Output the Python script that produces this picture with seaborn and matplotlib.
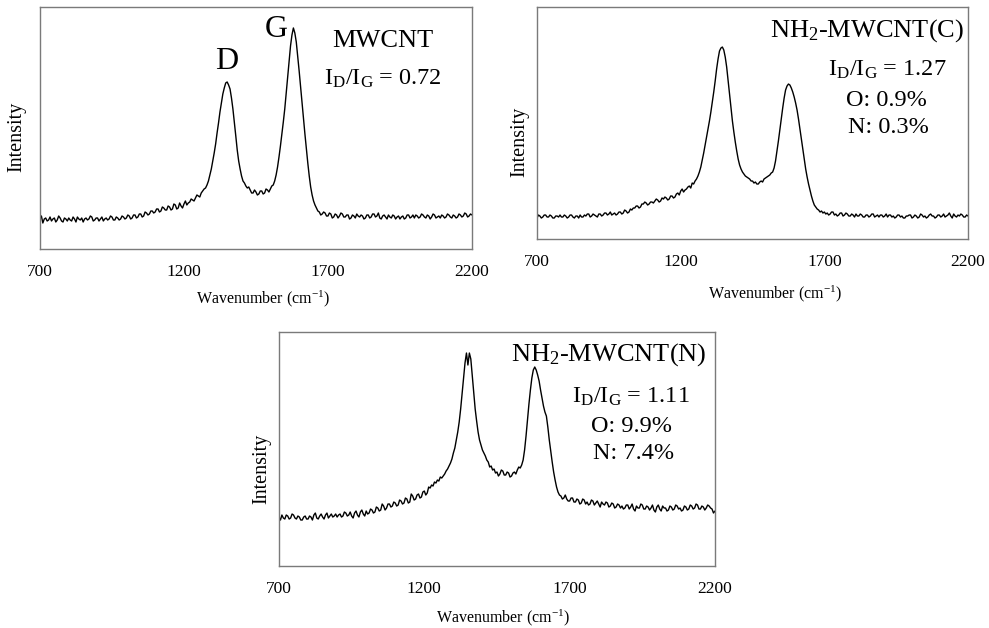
import numpy as np
import pandas as pd
import matplotlib
matplotlib.use("Agg")
import matplotlib.pyplot as plt
import seaborn as sns

# Raman spectra (intensity in arbitrary units), 700-2200 cm-1, 5 cm-1 step
wavenumber = np.arange(700, 2201, 5)

mwcnt = [
    30, 33, 26, 30, 31, 28, 29, 32, 28, 30, 31, 27, 29, 33, 31, 28, 27, 31, 30, 28,
    31, 29, 28, 32, 30, 27, 32, 30, 29, 31, 27, 30, 31, 29, 30, 33, 32, 28, 29, 31,
    31, 28, 30, 32, 28, 30, 31, 29, 30, 33, 32, 29, 29, 32, 31, 29, 30, 33, 32, 30,
    31, 34, 33, 30, 31, 34, 34, 31, 32, 35, 35, 32, 33, 37, 36, 34, 35, 38, 38, 36,
    37, 40, 40, 37, 38, 42, 41, 39, 39, 43, 42, 39, 40, 45, 44, 40, 41, 46, 43, 41,
    45, 48, 44, 46, 47, 50, 49, 48, 51, 54, 53, 52, 56, 58, 60, 61, 64, 68, 74, 80,
    88, 96, 105, 116, 126, 137, 146, 155, 161, 166, 167, 164, 160, 151, 140, 127, 113, 99, 88, 80,
    73, 68, 66, 63, 61, 62, 59, 56, 56, 59, 57, 54, 55, 58, 58, 55, 56, 60, 59, 57,
    60, 63, 64, 68, 74, 82, 92, 103, 115, 127, 140, 156, 172, 188, 203, 214, 221, 216, 207, 193,
    178, 162, 146, 130, 115, 100, 86, 73, 62, 54, 48, 44, 41, 38, 37, 34, 35, 37, 36, 33,
    33, 36, 35, 31, 32, 35, 34, 31, 33, 36, 35, 32, 32, 34, 34, 30, 31, 34, 33, 31,
    35, 33, 32, 34, 33, 30, 31, 34, 34, 31, 32, 35, 35, 32, 33, 36, 31, 30, 33, 34,
    32, 30, 34, 32, 31, 34, 33, 30, 32, 33, 30, 32, 33, 30, 31, 34, 34, 31, 32, 34,
    31, 34, 33, 31, 32, 35, 34, 32, 31, 34, 33, 30, 32, 35, 34, 31, 32, 33, 31, 34,
    33, 31, 32, 35, 34, 32, 31, 34, 33, 31, 32, 35, 34, 32, 33, 36, 35, 32, 33, 35,
    34,
]

nh2_mwcnt_c = [
    21, 24, 23, 21, 22, 24, 24, 22, 22, 24, 23, 21, 21, 23, 23, 22, 24, 22, 22, 24,
    23, 21, 22, 24, 24, 22, 21, 23, 23, 21, 24, 22, 22, 24, 23, 25, 25, 22, 23, 25,
    24, 23, 22, 25, 25, 23, 24, 26, 26, 24, 25, 27, 24, 25, 26, 24, 25, 27, 27, 25,
    26, 29, 28, 26, 27, 30, 29, 31, 31, 33, 33, 31, 32, 35, 35, 37, 36, 34, 35, 37,
    37, 36, 38, 40, 39, 37, 38, 41, 40, 42, 41, 39, 40, 43, 43, 41, 42, 45, 46, 44,
    48, 50, 47, 49, 50, 52, 53, 51, 56, 55, 58, 60, 63, 67, 72, 79, 86, 94, 102, 110,
    118, 127, 137, 147, 158, 170, 180, 188, 191, 192, 189, 182, 172, 159, 145, 131, 118, 107, 97, 88,
    80, 74, 70, 67, 65, 63, 62, 61, 60, 58, 58, 56, 57, 55, 55, 57, 58, 57, 60, 61,
    62, 63, 64, 66, 67, 71, 78, 88, 98, 109, 120, 131, 141, 149, 153, 155, 154, 151, 147, 142,
    136, 129, 120, 110, 100, 90, 80, 70, 62, 55, 49, 43, 38, 34, 32, 30, 29, 27, 28, 26,
    27, 25, 26, 24, 25, 27, 27, 24, 25, 23, 24, 26, 26, 23, 24, 26, 25, 23, 23, 25,
    24, 22, 25, 23, 23, 25, 24, 22, 22, 24, 24, 22, 23, 25, 25, 22, 23, 24, 22, 24,
    24, 22, 23, 25, 22, 24, 24, 22, 23, 21, 22, 24, 24, 22, 23, 21, 21, 23, 23, 24,
    24, 21, 22, 24, 23, 21, 22, 25, 24, 22, 23, 21, 22, 24, 25, 23, 23, 21, 22, 24,
    24, 22, 23, 25, 22, 23, 24, 26, 23, 21, 25, 23, 22, 24, 23, 25, 24, 22, 22, 24,
    23,
]

nh2_mwcnt_n = [
    49, 46, 51, 48, 47, 51, 50, 47, 48, 52, 51, 48, 47, 50, 49, 46, 46, 49, 50, 47,
    47, 50, 49, 46, 51, 53, 48, 47, 50, 52, 49, 47, 51, 53, 48, 50, 52, 49, 50, 52,
    49, 51, 52, 49, 50, 54, 53, 50, 51, 54, 50, 48, 53, 55, 51, 49, 54, 56, 52, 50,
    55, 52, 53, 57, 56, 53, 54, 59, 58, 55, 56, 62, 60, 56, 58, 62, 62, 59, 60, 64,
    63, 60, 61, 66, 65, 62, 63, 68, 67, 63, 64, 72, 70, 66, 67, 71, 72, 68, 69, 74,
    75, 71, 73, 79, 78, 81, 80, 84, 83, 86, 85, 89, 88, 90, 92, 95, 97, 100, 103, 107,
    113, 118, 126, 134, 144, 157, 172, 188, 203, 213, 201, 213, 207, 190, 172, 157, 145, 134, 126, 121,
    116, 113, 110, 106, 104, 99, 100, 96, 97, 93, 94, 90, 92, 96, 95, 91, 91, 94, 93, 89,
    90, 93, 94, 92, 96, 99, 98, 101, 106, 116, 130, 146, 162, 176, 188, 196, 199, 196, 191, 185,
    176, 168, 160, 154, 150, 139, 126, 115, 104, 94, 86, 79, 74, 71, 70, 67, 68, 71, 67, 65,
    65, 68, 68, 64, 64, 67, 66, 62, 63, 67, 66, 62, 64, 61, 62, 66, 65, 61, 63, 65,
    62, 59, 64, 62, 61, 64, 63, 59, 60, 63, 62, 58, 59, 62, 61, 58, 60, 57, 58, 61,
    61, 57, 59, 62, 57, 55, 60, 58, 58, 62, 61, 57, 57, 60, 59, 56, 58, 61, 56, 54,
    59, 61, 57, 55, 60, 58, 58, 55, 56, 60, 59, 56, 57, 61, 60, 57, 58, 55, 56, 60,
    59, 56, 57, 61, 60, 57, 58, 62, 61, 57, 57, 60, 59, 56, 58, 61, 60, 58, 57, 53,
    55,
]

xticks = [700, 1200, 1700, 2200]

sns.set_style("white")
plt.rcParams["font.family"] = ["Liberation Serif", "DejaVu Serif"]
plt.rcParams["mathtext.fontset"] = "custom"
plt.rcParams["mathtext.rm"] = "Liberation Serif"
plt.rcParams["mathtext.it"] = "Liberation Serif:italic"
plt.rcParams["text.color"] = "black"
plt.rcParams["axes.labelcolor"] = "black"
plt.rcParams["xtick.color"] = "black"

fig = plt.figure(figsize=(9.89, 6.28), dpi=100)

# axes boxes in figure fractions, plus y-limit matching each panel height
ax1 = fig.add_axes([0.0404, 0.6035, 0.4368, 0.3854])
ax2 = fig.add_axes([0.5430, 0.6194, 0.4358, 0.3694])
ax3 = fig.add_axes([0.2821, 0.0987, 0.4408, 0.3726])

panels = [
    (ax1, mwcnt, 242, (-0.032, 0.463), (0.516, -0.165)),
    (ax2, nh2_mwcnt_c, 232, (-0.019, 0.418), (0.553, -0.19)),
    (ax3, nh2_mwcnt_n, 234, (-0.018, 0.415), (0.515, -0.176)),
]

for ax, spec, ytop, ylab_pos, xlab_pos in panels:
    df = pd.DataFrame({"wavenumber": wavenumber, "intensity": spec})
    sns.lineplot(data=df, x="wavenumber", y="intensity", ax=ax,
                 color="black", linewidth=1.0)
    ax.set_xlim(700, 2200)
    ax.set_ylim(0, ytop)
    ax.set_xticks(xticks)
    ax.set_xticklabels([str(t) for t in xticks])
    ax.set_yticks([])
    ax.tick_params(axis="x", length=0, pad=11, labelsize=12.5)
    for sp in ax.spines.values():
        sp.set_color("#7a7a7a")
        sp.set_linewidth(1.0)
    ax.set_ylabel("Intensity", fontsize=14.5)
    ax.set_xlabel(r"Wavenumber (cm$^{\mathrm{-1}}$)", fontsize=11.5)
    ax.yaxis.set_label_coords(*ylab_pos)
    ax.xaxis.set_label_coords(*xlab_pos)

# panel 1 annotations
ax1.text(1348, 180, "D", fontsize=23, ha="center", va="baseline")
ax1.text(1522, 212, "G", fontsize=23, ha="center", va="baseline")
ax1.text(1889, 202, "MWCNT", fontsize=19, ha="center", va="baseline")
ax1.text(1889, 164, r"I$_\mathrm{D}$/I$_\mathrm{G}$ = 0.72", fontsize=17.5,
         ha="center", va="baseline")

# panel 2 annotations
ax2.text(1850, 202, r"NH$_\mathrm{2}$-MWCNT(C)", fontsize=19, ha="center", va="baseline")
ax2.text(1920, 163, r"I$_\mathrm{D}$/I$_\mathrm{G}$ = 1.27", fontsize=17.5,
         ha="center", va="baseline")
ax2.text(1917, 133, "O: 0.9%", fontsize=17.5, ha="center", va="baseline")
ax2.text(1922, 106, "N: 0.3%", fontsize=17.5, ha="center", va="baseline")

# panel 3 annotations
ax3.text(1833, 205, r"NH$_\mathrm{2}$-MWCNT(N)", fontsize=19, ha="center", va="baseline")
ax3.text(1911, 163, r"I$_\mathrm{D}$/I$_\mathrm{G}$ = 1.11", fontsize=17.5,
         ha="center", va="baseline")
ax3.text(1914, 134, "O: 9.9%", fontsize=17.5, ha="center", va="baseline")
ax3.text(1920, 107, "N: 7.4%", fontsize=17.5, ha="center", va="baseline")

fig.savefig("out.png", dpi=100)
